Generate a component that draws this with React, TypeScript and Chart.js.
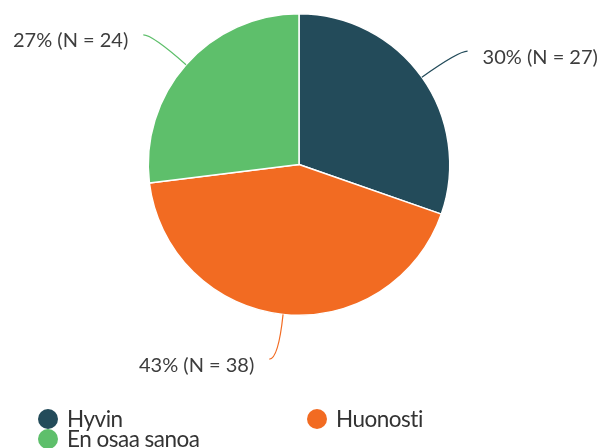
import React, { useEffect, useRef } from "react";
import { Chart, registerables } from "chart.js";

Chart.register(...registerables);

const categories = ["Hyvin", "Huonosti", "En osaa sanoa"];
const counts = [27, 38, 24];
const percents = [30, 43, 27];
const colors = ["#234b5a", "#f26b22", "#5ebf6b"];

const FONT = "Lato, 'Open Sans', sans-serif";

const labelPlugin = {
  id: "outerLabels",
  afterDatasetsDraw(chart: any) {
    const ctx = chart.ctx;
    const meta = chart.getDatasetMeta(0);
    meta.data.forEach((arc: any, i: number) => {
      const { x, y, startAngle, endAngle, outerRadius } = arc.getProps(
        ["x", "y", "startAngle", "endAngle", "outerRadius"],
        true
      );
      const mid = (startAngle + endAngle) / 2;
      const dx = Math.cos(mid);
      const dy = Math.sin(mid);
      const p0x = x + outerRadius * dx;
      const p0y = y + outerRadius * dy;
      const cr = outerRadius + 45;
      const cx = x + cr * dx;
      const cy = y + cr * dy;
      const side = dx >= 0 ? 1 : -1;
      const ex = cx + side * 9;
      const ey = cy;
      ctx.save();
      ctx.strokeStyle = colors[i];
      ctx.lineWidth = 1.2;
      ctx.beginPath();
      ctx.moveTo(p0x, p0y);
      ctx.quadraticCurveTo(cx, cy, ex, ey);
      ctx.stroke();
      ctx.fillStyle = "#3d3d3d";
      ctx.font = `20px ${FONT}`;
      ctx.textBaseline = "middle";
      ctx.textAlign = side > 0 ? "left" : "right";
      ctx.fillText(`${percents[i]}% (N = ${counts[i]})`, ex + side * 15, ey + 6);
      ctx.restore();
    });
  },
};

const legendPlugin = {
  id: "customLegend",
  afterDraw(chart: any) {
    const ctx = chart.ctx;
    const cols = [48, 317];
    const rows = [418, 438];
    ctx.save();
    ctx.font = `22.5px ${FONT}`;
    try {
      (ctx as any).letterSpacing = "-0.5px";
    } catch (e) {}
    ctx.textBaseline = "middle";
    ctx.textAlign = "left";
    chart.data.labels.forEach((lab: string, i: number) => {
      const cx = cols[i % 2];
      const cy = rows[Math.floor(i / 2)];
      ctx.fillStyle = colors[i];
      ctx.beginPath();
      ctx.arc(cx, cy + 1, 10, 0, Math.PI * 2);
      ctx.fill();
      ctx.fillStyle = "#333333";
      ctx.fillText(lab, cx + 19, cy + 2);
    });
    ctx.restore();
  },
};

export default function App() {
  const ref = useRef<HTMLCanvasElement>(null);
  useEffect(() => {
    const chart = new Chart(ref.current!, {
      type: "pie",
      data: {
        labels: categories,
        datasets: [
          {
            data: counts,
            backgroundColor: colors,
            borderColor: "#ffffff",
            borderWidth: 1.5,
          },
        ],
      },
      options: {
        responsive: false,
        animation: false,
        layout: { padding: { top: 13, bottom: 132, left: 0, right: 3 } },
        plugins: { legend: { display: false }, tooltip: { enabled: false } },
      },
      plugins: [labelPlugin, legendPlugin],
    });
    return () => chart.destroy();
  }, []);
  return (
    <canvas
      ref={ref}
      width={601}
      height={448}
      style={{ position: "fixed", left: 0, top: 0, width: 601, height: 448, background: "#fff" }}
    />
  );
}
